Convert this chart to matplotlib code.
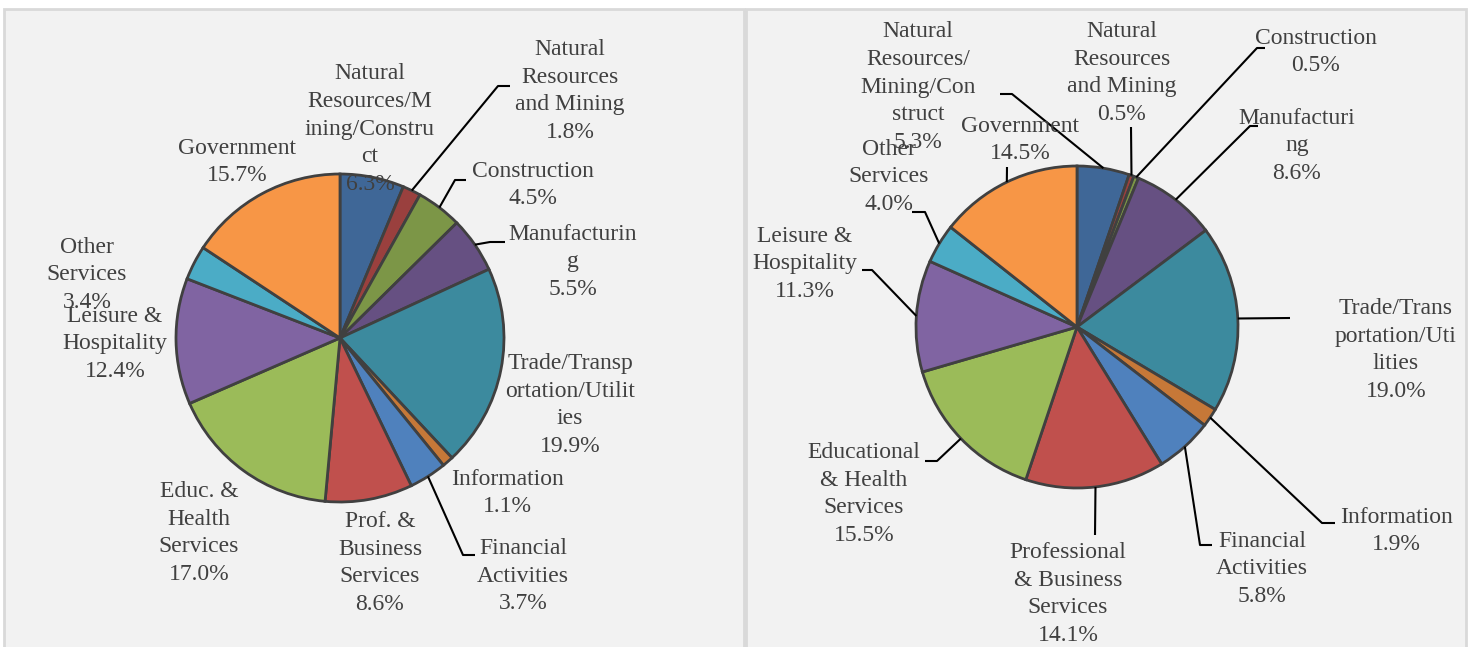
import matplotlib
matplotlib.use("Agg")
import matplotlib.pyplot as plt
import numpy as np
from matplotlib.patches import Rectangle

# ---------------- data ----------------
sectors = ["Natural Resources/Mining/Construct", "Natural Resources and Mining",
           "Construction", "Manufacturing", "Trade/Transportation/Utilities",
           "Information", "Financial Activities", "Professional & Business Services",
           "Educational & Health Services", "Leisure & Hospitality",
           "Other Services", "Government"]
left_values = [6.3, 1.8, 4.5, 5.5, 19.9, 1.1, 3.7, 8.6, 17.0, 12.4, 3.4, 15.7]
right_values = [5.3, 0.5, 0.5, 8.6, 19.0, 1.9, 5.8, 14.1, 15.5, 11.3, 4.0, 14.5]

left_labels = ["Natural\nResources/M\nining/Constru\nct", "Natural\nResources\nand Mining",
               "Construction", "Manufacturin\ng", "Trade/Transp\nortation/Utilit\nies",
               "Information", "Financial\nActivities", "Prof. &\nBusiness\nServices",
               "Educ. &\nHealth\nServices", "Leisure &\nHospitality",
               "Other\nServices", "Government"]
right_labels = ["Natural\nResources/\nMining/Con\nstruct", "Natural\nResources\nand Mining",
                "Construction", "Manufacturi\nng", "Trade/Trans\nportation/Uti\nlities",
                "Information", "Financial\nActivities", "Professional\n& Business\nServices",
                "Educational\n& Health\nServices", "Leisure &\nHospitality",
                "Other\nServices", "Government"]

colors = ["#3F6797", "#9A403E", "#7C9647", "#665082", "#3C8A9E", "#C67838",
          "#4F81BD", "#C0504D", "#9BBB59", "#8064A2", "#4BACC6", "#F79646"]

# ---------------- layout (pixel coordinates, y from top) ----------------
W, H = 1470, 647
left_center, left_r = (340, 338), 164
right_center, right_r = (1077, 327), 161

left_label_pos = [(370, 129), (570, 91), (533, 185), (573, 262), (570, 405),
                  (507, 493), (523, 576), (380, 563), (199, 533), (115, 344),
                  (87, 275), (237, 162)]
right_label_pos = [(918, 87), (1122, 73), (1316, 52), (1297, 146), (1396, 350),
                   (1396, 531), (1262, 569), (1068, 594), (864, 494), (805, 264),
                   (889, 177), (1020, 140)]

# leader lines: index -> (attach fraction within slice, list of further points)
left_leaders = {1: (0.5, [(498, 86), (510, 86)]),
                2: (0.5, [(455, 180), (466, 180)]),
                3: (0.5, [(490, 242), (505, 242)]),
                6: (0.5, [(463, 555), (475, 555)])}
right_leaders = {0: (0.5, [(1012, 94), (1000, 94)]),
                 1: (0.5, [(1131, 127)]),
                 2: (0.5, [(1257, 48), (1265, 48)]),
                 3: (0.5, [(1250, 126), (1258, 126)]),
                 4: (0.5, [(1290, 318)]),
                 5: (0.5, [(1322, 523), (1335, 523)]),
                 6: (0.5, [(1200, 545), (1212, 545)]),
                 7: (0.5, [(1095, 535)]),
                 8: (0.5, [(937, 461), (925, 461)]),
                 9: (0.5, [(872, 270), (862, 270)]),
                 10: (0.5, [(925, 212), (912, 212)]),
                 11: (0.5, [(1007, 167)])}

TEXT_COLOR = "#404040"
FONT = ["Liberation Serif", "DejaVu Serif"]


def Y(y):
    return H - y


fig = plt.figure(figsize=(W / 100, H / 100), dpi=100)
fig.patch.set_facecolor("white")
ax = fig.add_axes([0, 0, 1, 1])

# panels
for x0, x1 in [(4, 744), (746, 1466)]:
    ax.add_patch(Rectangle((x0, Y(H + 5)), x1 - x0, H + 5 - 9,
                           facecolor="#F2F2F2", edgecolor="#D9D9D9", lw=2, zorder=0))


def draw_pie(values, labels, center, r, label_pos, leaders):
    ax.pie(values, colors=colors, startangle=90, counterclock=False,
           center=(center[0], Y(center[1])), radius=r,
           wedgeprops=dict(edgecolor="#404040", linewidth=2))
    total = float(sum(values))
    cum = np.cumsum([0] + list(values))
    for i, (v, lab) in enumerate(zip(values, labels)):
        x, y = label_pos[i]
        ax.text(x, Y(y), f"{lab}\n{v:.1f}%", ha="center", va="center",
                multialignment="center", fontsize=17, family=FONT,
                color=TEXT_COLOR, linespacing=1.42, zorder=5)
        if i in leaders:
            frac, pts = leaders[i]
            a = 90 - 360 * (cum[i] + frac * v) / total
            sx = center[0] + r * np.cos(np.radians(a))
            sy = center[1] - r * np.sin(np.radians(a))
            xs = [sx] + [p[0] for p in pts]
            ys = [Y(sy)] + [Y(p[1]) for p in pts]
            ax.plot(xs, ys, color="black", lw=1.5, zorder=4,
                    solid_capstyle="butt")


draw_pie(left_values, left_labels, left_center, left_r, left_label_pos, left_leaders)
draw_pie(right_values, right_labels, right_center, right_r, right_label_pos, right_leaders)

ax.set_xlim(0, W)
ax.set_ylim(0, H)
ax.set_aspect("auto")
ax.axis("off")

fig.savefig("out.png", dpi=100, facecolor="white")
